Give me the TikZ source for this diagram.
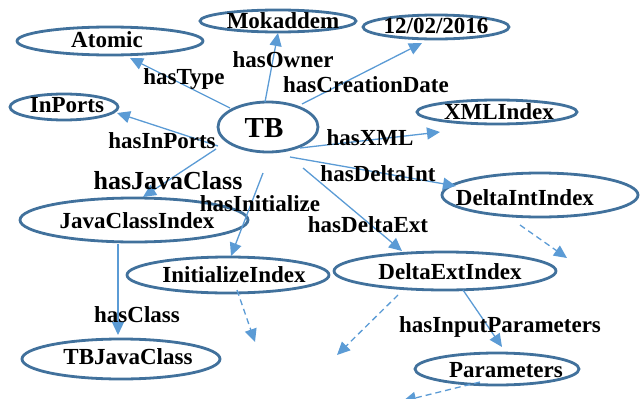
\documentclass[tikz,border=0pt]{standalone}
\usepackage{fontspec}
\setmainfont{Liberation Serif}
\usetikzlibrary{shapes.geometric,arrows.meta}
\definecolor{ellc}{HTML}{41719C}
\definecolor{arrc}{HTML}{5B9BD5}
\begin{document}
\begin{tikzpicture}[x=1pt,y=-1pt,
  ell/.style={ellipse, draw=ellc, line width=2.8pt, inner sep=0pt},
  lbl/.style={font=\fontsize{23}{25}\selectfont\bfseries, inner sep=0pt, anchor=base},
  arr/.style={draw=arrc, line width=1.3pt, -{Triangle[length=13pt,width=12pt]}},
  darr/.style={arr, dash pattern=on 6pt off 4pt}]
\useasboundingbox (0,0) rectangle (643,399);
% ellipses
\node[ell, minimum width=186pt, minimum height=28pt] (atomic) at (110,41) {};
\node[ell, minimum width=156pt, minimum height=22pt] (mok) at (278,21) {};
\node[ell, minimum width=146pt, minimum height=24pt] (date) at (436,27) {};
\node[ell, minimum width=108pt, minimum height=26pt] (inports) at (64,107) {};
\node[ell, minimum width=100pt, minimum height=50pt] (tb) at (268,127) {};
\node[ell, minimum width=160pt, minimum height=24pt] (xml) at (497,112) {};
\node[ell, minimum width=196pt, minimum height=44pt] (dint) at (540,195) {};
\node[ell, minimum width=228pt, minimum height=44pt] (jci) at (134,220) {};
\node[ell, minimum width=202pt, minimum height=36pt] (init) at (228,275) {};
\node[ell, minimum width=222pt, minimum height=38pt] (dext) at (445,271) {};
\node[ell, minimum width=198pt, minimum height=40pt] (tbj) at (121,359) {};
\node[ell, minimum width=164pt, minimum height=32pt] (params) at (497,369) {};
% node texts
\node[lbl] (atomic-t) at (107,47) {Atomic};
\node[lbl] (mok-t) at (283,28) {Mokaddem};
\node[lbl] (date-t) at (436,33) {12/02/2016};
\node[lbl] (inports-t) at (67,112) {InPorts};
\node[lbl, font=\fontsize{29}{31}\selectfont\bfseries] (tb-t) at (264,137) {TB};
\node[lbl] (xml-t) at (499,119) {XMLIndex};
\node[lbl] (dint-t) at (525,205) {DeltaIntIndex};
\node[lbl] (jci-t) at (137,228) {JavaClassIndex};
\node[lbl] (init-t) at (234,282) {InitializeIndex};
\node[lbl] (dext-t) at (450,279) {DeltaExtIndex};
\node[lbl] (tbj-t) at (128,364) {TBJavaClass};
\node[lbl] (params-t) at (506,377) {Parameters};
% free ends
\coordinate (d1) at (255,342);
\coordinate (d2) at (567,258);
\coordinate (d3) at (337,355);
\coordinate (d4) at (403,401);
% connectors
\draw[arr] ([shift={(-38,-19)}]tb.center) -- ([shift={(20,17)}]atomic.center);
\draw[arr] ([shift={(-3,-25)}]tb.center) -- ([shift={(0,12)}]mok.center);
\draw[arr] ([shift={(34,-23)}]tb.center) -- ([shift={(-14,16)}]date.center);
\draw[arr] ([shift={(32,21)}]tb.center) -- ([shift={(-57,20)}]xml.center);
\draw[arr] ([shift={(22,30)}]tb.center) -- ([shift={(-84,-9)}]dint.center);
\draw[arr] ([shift={(35,41)}]tb.center) -- ([shift={(-43,-20)}]dext.center);
\draw[arr] ([shift={(-5,46)}]tb.center) -- ([shift={(3,-19)}]init.center);
\draw[arr] ([shift={(-52,22)}]tb.center) -- ([shift={(9,-23)}]jci.center);
\draw[arr] ([shift={(-50,19)}]tb.center) -- ([shift={(53,6)}]inports.center);
\draw[arr] ([shift={(-16,24)}]jci.center) -- ([shift={(-3,-24)}]tbj.center);
\draw[arr] ([shift={(18,19)}]dext.center) -- ([shift={(5,-22)}]params.center);
\draw[darr] ([shift={(9,15)}]init.center) -- (d1);
\draw[darr] ([shift={(-20,30)}]dint.center) -- (d2);
\draw[darr] ([shift={(-47,24)}]dext.center) -- (d3);
\draw[darr] ([shift={(-17,13)}]params.center) -- (d4);
% edge labels
\node[lbl] (l-type) at (184,84) {hasType};
\node[lbl] (l-owner) at (283,67) {hasOwner};
\node[lbl] (l-date) at (366,92) {hasCreationDate};
\node[lbl] (l-xml) at (370,145) {hasXML};
\node[lbl] (l-inports) at (162,148) {hasInPorts};
\node[lbl, font=\fontsize{26}{28}\selectfont\bfseries] (l-java) at (168,189) {hasJavaClass};
\node[lbl] (l-init) at (260,211) {hasInitialize};
\node[lbl] (l-dint) at (378,181) {hasDeltaInt};
\node[lbl] (l-dext) at (368,232) {hasDeltaExt};
\node[lbl] (l-input) at (500,332) {hasInputParameters};
\node[lbl] (l-class) at (137,322) {hasClass};
\end{tikzpicture}
\end{document}
